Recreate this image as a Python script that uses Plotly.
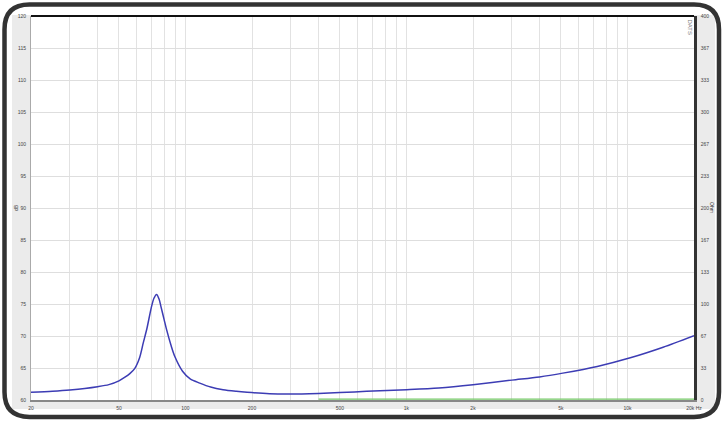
import numpy as np
import plotly.graph_objects as go

# impedance curve (Hz, Ohm)
freq = [20, 25, 30, 35, 40, 45, 50, 53, 56, 59, 62, 64.5, 67, 70, 72, 74, 76, 77.5, 80, 82.2, 86,
        89.6, 97, 105, 116, 130, 148, 170, 190, 240, 300, 400, 500, 660, 1000, 1400, 2000, 3000,
        4000, 5100, 7300, 10300, 14500, 20000]
ohm = [8.0, 9.2, 10.5, 12.0, 13.8, 16.0, 20, 23.5, 27.5, 33, 44, 60, 75, 96, 106, 110, 105, 97, 84,
       73, 57, 45, 30, 22, 17.6, 13.5, 10.7, 9.0, 8.0, 6.5, 6.2, 6.9, 7.8, 9.0, 10.7, 12.5, 15.9,
       20.7, 24, 28, 35, 44, 55, 67]

# green trace along the bottom (read on the dB scale)
green_freq = [400, 20000]
green_db = [60.15, 60.15]

db_ticks = [60, 65, 70, 75, 80, 85, 90, 95, 100, 105, 110, 115, 120]
ohm_tickvals = [0, 33.33, 66.67, 100, 133.33, 166.67, 200, 233.33, 266.67, 300, 333.33, 366.67, 400]
ohm_ticktext = ['0', '33', '67', '100', '133', '167', '200', '233', '267', '300', '333', '367', '400']
x_grid = [20, 30, 40, 50, 60, 70, 80, 90, 100, 200, 300, 400, 500, 600, 700, 800, 900,
          1000, 2000, 3000, 4000, 5000, 6000, 7000, 8000, 9000, 10000, 20000]
x_labels = {20: '20', 50: '50', 100: '100', 200: '200', 500: '500', 1000: '1k', 2000: '2k',
            5000: '5k', 10000: '10k', 20000: '20k Hz'}

W, H = 727, 423
L, R, T, B = 31, 33, 16, 21
pw, ph = W - L - R, H - T - B

def px(x):
    return (x - L) / pw

def py(y):
    return (H - B - y) / ph

font = dict(family='Liberation Sans, Arial', size=5, color='#444')
clear = 'rgba(0,0,0,0)'

fig = go.Figure()
fig.add_trace(go.Scatter(x=green_freq, y=green_db, mode='lines', yaxis='y',
                         line=dict(color='#74c866', width=1.3), hoverinfo='skip'))
fig.add_trace(go.Scatter(x=freq, y=ohm, mode='lines', yaxis='y2',
                         line=dict(color='#3c3cb4', width=1.5, shape='spline', smoothing=0.8)))

shapes = []
gray = '#ebebeb'
# gray panel strips round the plot
for x0, y0, x1, y1 in [(12, 15, L, 411), (W - R, 15, 715, 411), (12, H - B, 715, 411)]:
    shapes.append(dict(type='rect', xref='paper', yref='paper', x0=px(x0), x1=px(x1),
                       y0=py(y1), y1=py(y0), fillcolor=gray, line=dict(width=0), layer='below'))
# thick top edge
shapes.append(dict(type='line', xref='paper', yref='paper', x0=0, x1=1, y0=1, y1=1,
                   line=dict(color='#111', width=2)))
# rounded outer frame
fl, fr, ft, fb, rad = 4.5, 719, 4.5, 419, 25
rx, ry = rad / pw, rad / ph
a, b, c, d = px(fl), px(fr), py(ft), py(fb)
path = (f'M {a + rx},{c} L {b - rx},{c} Q {b},{c} {b},{c - ry} L {b},{d + ry} '
        f'Q {b},{d} {b - rx},{d} L {a + rx},{d} Q {a},{d} {a},{d + ry} L {a},{c - ry} '
        f'Q {a},{c} {a + rx},{c} Z')
shapes.append(dict(type='path', xref='paper', yref='paper', path=path,
                   line=dict(color='#333', width=4.5)))

tfont = dict(family='Liberation Sans, Arial', size=5, color='#333')
annotations = [
    dict(text='dB', x=px(16), y=0.5, xref='paper', yref='paper', showarrow=False,
         xanchor='center', yanchor='middle', textangle=-90, font=tfont),
    dict(text='Ohm', x=px(712), y=0.5, xref='paper', yref='paper', showarrow=False,
         xanchor='center', yanchor='middle', textangle=90, font=tfont),
    dict(text='DATS', x=px(690.5), y=py(27), xref='paper', yref='paper', showarrow=False,
         xanchor='center', yanchor='middle', textangle=90,
         font=dict(family='Liberation Sans, Arial', size=6, color='#777')),
]

fig.update_layout(
    width=W, height=H,
    margin=dict(l=L, r=R, t=T, b=B, pad=0),
    paper_bgcolor='white', plot_bgcolor='white',
    showlegend=False,
    shapes=shapes, annotations=annotations,
    xaxis=dict(type='log', range=[np.log10(20), np.log10(20000)],
               tickvals=x_grid, ticktext=[x_labels.get(v, '') for v in x_grid],
               showgrid=True, gridcolor='#e2e2e2', gridwidth=1,
               showline=True, linecolor='#888', linewidth=1.5,
               ticks='outside', ticklen=2, tickcolor=clear, tickfont=font, zeroline=False),
    yaxis=dict(range=[60, 120], tickmode='array', tickvals=db_ticks,
               ticktext=[str(v) for v in db_ticks],
               showgrid=True, gridcolor='#dedede',
               showline=True, linecolor='#aaa', linewidth=1,
               ticks='outside', ticklen=3, tickcolor=clear, tickfont=font, zeroline=False),
    yaxis2=dict(range=[0, 400], overlaying='y', side='right', tickmode='array',
                tickvals=ohm_tickvals, ticktext=ohm_ticktext, showgrid=False,
                showline=True, linecolor='#333', linewidth=2.5,
                ticks='outside', ticklen=3, tickcolor=clear, tickfont=font, zeroline=False),
)

fig.write_html('out.html', config={'displayModeBar': False},
               post_script="document.body.style.margin='0';")
